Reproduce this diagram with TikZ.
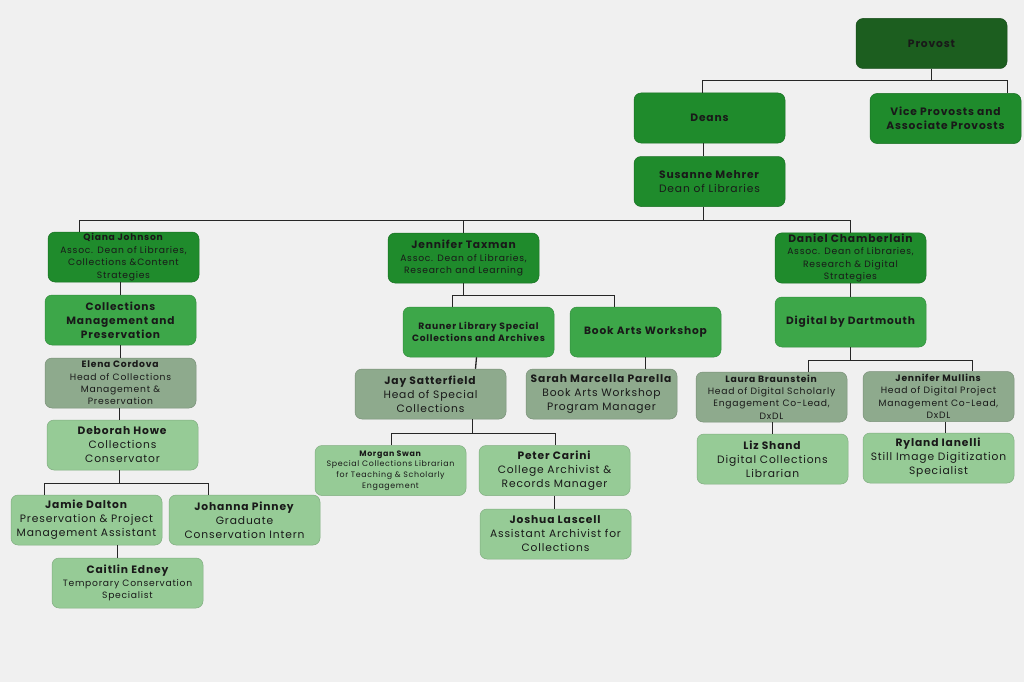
\documentclass[tikz,border=0pt]{standalone}
\usepackage{fontspec}
\setmainfont{Poppins}[LetterSpace=8]
\definecolor{provgreen}{HTML}{1C5E1F}
\definecolor{deangreen}{HTML}{1F8B2C}
\definecolor{deptgreen}{HTML}{3DA749}
\definecolor{headsage}{HTML}{8EAA8D}
\definecolor{staffmint}{HTML}{96CB96}
\definecolor{canvas}{HTML}{F0F0F0}
\definecolor{wirecol}{HTML}{262626}
\newcommand\ftiny{\fontsize{7.9}{10.6}\selectfont}
\newcommand\fsmall{\fontsize{9.2}{12.4}\selectfont}
\newcommand\fmed{\fontsize{10.7}{14}\selectfont}
\newcommand\fbig{\fontsize{10.6}{14}\selectfont\bfseries}

\begin{document}
\begin{tikzpicture}[x=1pt,y=-1pt,
  card/.style={rounded corners=7pt,minimum width=151pt,minimum height=50pt,align=center,
               inner sep=1pt,text=black!90,line width=0.5pt},
  provbox/.style={card,fill=provgreen,draw=provgreen!80!black},
  deanbox/.style={card,fill=deangreen,draw=deangreen!80!black},
  deptbox/.style={card,fill=deptgreen,draw=deptgreen!85!black},
  headbox/.style={card,fill=headsage,draw=headsage!85!black},
  staffbox/.style={card,fill=staffmint,draw=staffmint!85!black},
  wire/.style={draw=wirecol,line width=1.3pt}]
  \fill[canvas] (0,0) rectangle (1024,682);
  % top of the tree
  \node[provbox,font=\fmed\bfseries] (prov) at (931.5,43.5) {Provost};
  \node[deanbox,font=\fmed\bfseries] (deans) at (709.5,118) {Deans};
  \node[deanbox,font=\fmed\bfseries] (vp) at (945.5,118.5) {Vice Provosts and\\Associate Provosts};
  \node[deanbox,font=\fmed] (sus) at (709.5,181.5) {\textbf{Susanne Mehrer}\\Dean of Libraries};
  % associate deans
  \node[deanbox,font=\fsmall] (qiana) at (123.5,257) {\textbf{Qiana Johnson}\\Assoc. Dean of Libraries,\\Collections \&Content\\Strategies};
  \node[deanbox,font=\fsmall] (jt) at (463.5,258) {{\fmed\bfseries Jennifer Taxman}\\Assoc. Dean of Libraries,\\Research and Learning};
  \node[deanbox,font=\fsmall] (daniel) at (850.5,258) {{\fmed\bfseries Daniel Chamberlain}\\Assoc. Dean of Libraries,\\Research \& Digital\\Strategies};
  % collections branch
  \node[deptbox,font=\fbig] (cmp) at (120.5,320) {Collections\\Management and\\Preservation};
  \node[headbox,font=\fsmall] (elena) at (120.5,383) {\textbf{Elena Cordova}\\Head of Collections\\Management \&\\Preservation};
  \node[staffbox,font=\fmed] (deb) at (122.5,445) {\textbf{Deborah Howe}\\Collections\\Conservator};
  \node[staffbox,font=\fmed] (jamie) at (86.5,520) {\textbf{Jamie Dalton}\\Preservation \& Project\\Management Assistant};
  \node[staffbox,font=\fmed] (johanna) at (244.5,520) {\textbf{Johanna Pinney}\\Graduate\\Conservation Intern};
  \node[staffbox,font=\fsmall] (caitlin) at (127.5,583) {{\fmed\bfseries Caitlin Edney}\\Temporary Conservation\\Specialist};
  % research and learning branch
  \node[deptbox,font=\fsmall\bfseries] (rauner) at (478.5,332) {Rauner Library Special\\Collections and Archives};
  \node[deptbox,font=\fbig] (book) at (645.5,332) {Book Arts Workshop};
  \node[headbox,font=\fmed] (jay) at (430.5,394) {\textbf{Jay Satterfield}\\Head of Special\\Collections};
  \node[headbox,font=\fmed] (sarah) at (601.5,394) {\textbf{Sarah Marcella Parella}\\Book Arts Workshop\\Program Manager};
  \node[staffbox,font=\ftiny] (morgan) at (390.5,470.5) {\textbf{Morgan Swan}\\Special Collections Librarian\\for Teaching \& Scholarly\\Engagement};
  \node[staffbox,font=\fmed] (peter) at (554.5,470.5) {\textbf{Peter Carini}\\College Archivist \&\\Records Manager};
  \node[staffbox,font=\fmed] (joshua) at (555.5,534) {\textbf{Joshua Lascell}\\Assistant Archivist for\\Collections};
  % digital branch
  \node[deptbox,font=\fbig] (dbd) at (850.5,322) {Digital by Dartmouth};
  \node[headbox,font=\fsmall] (laura) at (771.5,397) {\textbf{Laura Braunstein}\\Head of Digital Scholarly\\Engagement Co-Lead,\\DxDL};
  \node[headbox,font=\fsmall] (mullins) at (938.5,396.5) {\textbf{Jennifer Mullins}\\Head of Digital Project\\Management Co-Lead,\\DxDL};
  \node[staffbox,font=\fmed] (liz) at (772.5,459) {\textbf{Liz Shand}\\Digital Collections\\Librarian};
  \node[staffbox,font=\fmed] (ryland) at (938.5,458) {\textbf{Ryland Ianelli}\\Still Image Digitization\\Specialist};
  % connectors
  \draw[wire] (prov.south) -- ++(0,12) coordinate (pb);
  \draw[wire] ([xshift=-7pt]deans.north) |- (pb) -| ([xshift=62pt]vp.north);
  \draw[wire] ([xshift=-6pt]deans.south) -- ([xshift=-6pt]sus.north);
  \draw[wire] ([xshift=-6pt]sus.south) -- ++(0,14) coordinate (sb);
  \draw[wire] ([xshift=-44pt]qiana.north) |- (sb) -| (daniel.north);
  \draw[wire] (jt.north) -- (jt.north |- sb);
  \draw[wire] (cmp.north) -- (cmp.north |- qiana.south);
  \draw[wire] (cmp.south) -- (cmp.south |- elena.north);
  \draw[wire] ([xshift=-1pt]elena.south) -- ([xshift=-1pt]elena.south |- deb.north);
  \draw[wire] ([xshift=-3pt]deb.south) -- ++(0,13) coordinate (db);
  \draw[wire] ([xshift=-42pt]jamie.north) |- (db) -| ([xshift=-36pt]johanna.north);
  \draw[wire] ([xshift=31pt]jamie.south) -- ([xshift=-10pt]caitlin.north);
  \draw[wire] (jt.south) -- ++(0,12) coordinate (jb);
  \draw[wire] ([xshift=-26pt]rauner.north) |- (jb) -| ([xshift=-31pt]book.north);
  \draw[wire] ([xshift=-2pt]rauner.south) -- ([xshift=45pt]jay.north);
  \draw[wire] (book.south) -- ([xshift=44pt]sarah.north);
  \draw[wire] ([xshift=42pt]jay.south) -- ++(0,14) coordinate (yb);
  \draw[wire] ([xshift=1pt]morgan.north) |- (yb) -| ([xshift=1pt]peter.north);
  \draw[wire] (peter.south) -- ([xshift=-1pt]joshua.north);
  \draw[wire] (daniel.south) -- (dbd.north);
  \draw[wire] (dbd.south) -- ++(0,13) coordinate (gb);
  \draw[wire] ([xshift=37pt]laura.north) |- (gb) -| ([xshift=34pt]mullins.north);
  \draw[wire] ([xshift=1pt]laura.south) -- (liz.north);
  \draw[wire] ([xshift=7pt]mullins.south) -- ([xshift=7pt]ryland.north);
\end{tikzpicture}
\end{document}
